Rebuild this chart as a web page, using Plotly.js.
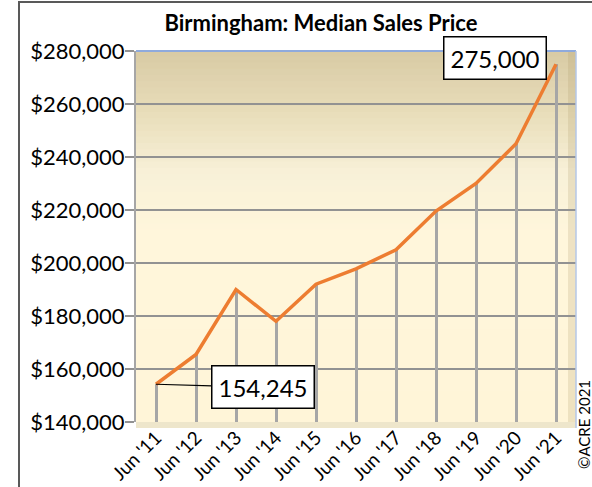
<!DOCTYPE html>
<html>
<head>
<meta charset="utf-8">
<script src="https://cdn.plot.ly/plotly-3.0.1.min.js"></script>
<style>html,body{margin:0;padding:0;background:#fff;}#chart{width:592px;height:487px;}</style>
</head>
<body>
<div id="chart"></div>
<script>
const categories = ["Jun '11","Jun '12","Jun '13","Jun '14","Jun '15","Jun '16","Jun '17","Jun '18","Jun '19","Jun '20","Jun '21"];
const prices = [154245, 165500, 190000, 178000, 192000, 197800, 205000, 219600, 230000, 245000, 275000];
const yTickValues = [140000, 160000, 180000, 200000, 220000, 240000, 260000, 280000];
const titleText = "Birmingham: Median Sales Price";
const copyrightText = "©ACRE 2021";
const FONT = "Lato, 'Open Sans', sans-serif";
const yMin = 140000, yMax = 280000;

// plot area geometry in px
const L = 136, R = 16, T = 51, B = 65, W = 592, H = 487;
const pw = W - L - R, ph = H - T - B;
const px2x = p => (p - L) / pw;
const px2y = p => (H - B - p) / ph;

// gradient background bands (styling)
const stops = [[0,[216,202,164]],[0.17,[232,221,186]],[0.33,[248,241,216]],[0.5,[255,246,219]],[1,[255,245,216]]];
function colAt(t){
  for(let i=0;i<stops.length-1;i++){
    const a=stops[i], b=stops[i+1];
    if(t>=a[0] && t<=b[0]){
      const f=(t-a[0])/(b[0]-a[0]);
      const c=a[1].map((v,k)=>Math.round(v+(b[1][k]-v)*f));
      return `rgb(${c[0]},${c[1]},${c[2]})`;
    }
  }
  return 'rgb(255,245,216)';
}
const shapes = [];
const N = 60;
const wallRight = px2x(568);
for(let i=0;i<N;i++){
  const t0=i/N, t1=(i+1)/N;
  shapes.push({type:'rect', xref:'paper', yref:'paper', x0:0, x1:1, y0:1-t1, y1:1-t0+0.002, fillcolor:colAt((t0+t1)/2), line:{width:0}, layer:'below'});
}
// right side wall shading
shapes.push({type:'rect', xref:'paper', yref:'paper', x0:wallRight, x1:1, y0:px2y(428), y1:1, fillcolor:'rgba(170,150,100,0.2)', line:{width:0}, layer:'below'});
// floor strip
shapes.push({type:'rect', xref:'paper', yref:'paper', x0:0, x1:1, y0:px2y(428), y1:0, fillcolor:'rgb(238,230,203)', line:{width:0}, layer:'below'});
// top and right blue frame lines
shapes.push({type:'line', xref:'paper', yref:'paper', x0:0, x1:1, y0:1, y1:1, line:{color:'#8faadc', width:2}});
shapes.push({type:'line', xref:'paper', yref:'paper', x0:1, x1:1, y0:1, y1:px2y(428), line:{color:'#b4c7e7', width:1.5}});
// outer chart border
shapes.push({type:'rect', xref:'paper', yref:'paper', x0:px2x(19), x1:px2x(700), y0:px2y(700), y1:px2y(2), line:{color:'#595959', width:2}, fillcolor:'rgba(0,0,0,0)'});

const dropLines = {
  type:'bar', x:categories, y:prices.map(v=>v-yMin), base:yMin,
  width:0.075, marker:{color:'#a6a6a6', line:{width:0}}, hoverinfo:'skip', showlegend:false
};
const line = {
  type:'scatter', mode:'lines', x:categories, y:prices,
  line:{color:'#ed7d31', width:3.5}, showlegend:false, hoverinfo:'x+y'
};

const annotations = [
  {x:categories[0], y:prices[0], xref:'x', yref:'y', text:prices[0].toLocaleString('en-US'),
   showarrow:true, arrowhead:0, arrowwidth:1.2, arrowcolor:'#000', ax:107, ay:3, standoff:0,
   bgcolor:'#fff', bordercolor:'#000', borderwidth:1.5, borderpad:6,
   font:{family:FONT, size:24, color:'#000'}},
  {x:categories[10], y:prices[10], xref:'x', yref:'y', text:prices[10].toLocaleString('en-US'),
   showarrow:false, xshift:-61, yshift:6,
   bgcolor:'#fff', bordercolor:'#000', borderwidth:1.5, borderpad:6,
   font:{family:FONT, size:24, color:'#000'}},
  {x:px2x(584), y:px2y(425), xref:'paper', yref:'paper', xanchor:'center', yanchor:'middle', text:copyrightText, textangle:-90,
   showarrow:false, font:{family:FONT, size:15, color:'#000'}}
];

const layout = {
  width:W, height:H,
  margin:{l:L, r:R, t:T, b:B, pad:0},
  paper_bgcolor:'#fff', plot_bgcolor:'rgba(0,0,0,0)',
  title:{text:'<b>'+titleText+'</b>', font:{family:FONT, size:22, color:'#000'}, x:321/W, xref:'container', xanchor:'center', y:1-23/H, yref:'container', yanchor:'middle'},
  xaxis:{type:'category', range:[-0.5,10.5], tickangle:-45, tickfont:{family:FONT, size:19, color:'#000'},
         showgrid:false, zeroline:false, showline:false, ticks:'', fixedrange:true},
  yaxis:{range:[yMin,yMax], tickvals:yTickValues, ticktext:yTickValues.map(v=>'$'+v.toLocaleString('en-US')),
         tickfont:{family:FONT, size:22, color:'#000'}, showgrid:true, gridcolor:'#929292', gridwidth:1.5,
         zeroline:false, showline:true, linecolor:'#a6a6a6', linewidth:2, ticks:'outside', ticklen:9, tickcolor:'#929292', tickwidth:1.5,
         ticklabelstandoff:-4, fixedrange:true},
  bargap:0, shapes:shapes, annotations:annotations, showlegend:false
};

Plotly.newPlot('chart', [dropLines, line], layout, {displayModeBar:false, staticPlot:true});
</script>
</body>
</html>
